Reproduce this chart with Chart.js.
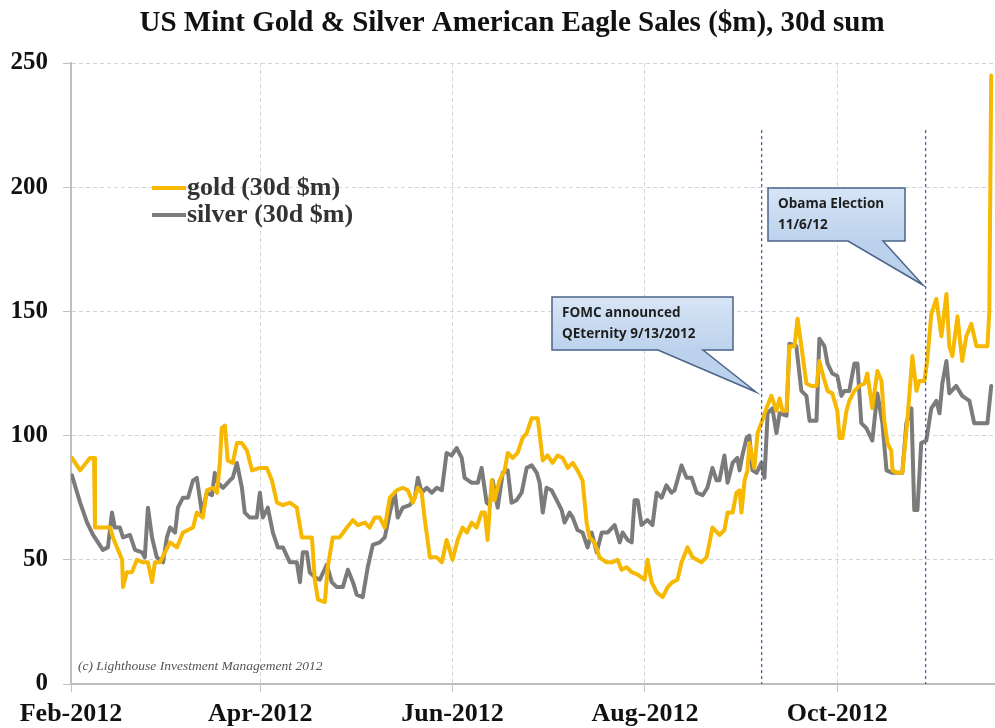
<!DOCTYPE html>
<html>
<head>
<meta charset="utf-8">
<script src="https://cdn.jsdelivr.net/npm/chart.js@4.4.1/dist/chart.umd.min.js"></script>
<style>
html, body { margin: 0; padding: 0; background: #fff; }
#wrap { width: 995px; height: 728px; position: relative; }
</style>
</head>
<body>
<div id="wrap"><canvas id="eagleChart"></canvas></div>
<script>
// x = days since 1 Feb 2012, y = 30 day sum in $m
const tickDays = [0, 60, 121, 182, 243];
const tickLabels = ['Feb-2012', 'Apr-2012', 'Jun-2012', 'Aug-2012', 'Oct-2012'];

const goldDays = [0.3, 2.9, 6.0, 7.3, 7.6, 12.4, 13.3, 16.2, 16.5, 17.7,
  19.3, 20.9, 22.8, 24.4, 25.7, 26.6, 28.2, 31.4, 33.6, 35.5,
  38.7, 39.9, 41.8, 43.1, 45.0, 46.3, 47.2, 47.8, 48.8, 49.7,
  51.3, 52.6, 54.2, 55.8, 57.4, 59.9, 62.1, 63.7, 65.3, 67.2,
  69.4, 71.6, 73.2, 76.4, 77.3, 78.3, 80.5, 81.4, 83.0, 85.2,
  87.5, 89.4, 90.9, 93.2, 94.7, 96.3, 97.9, 99.5, 101.1, 103.3,
  105.2, 106.8, 108.4, 110.0, 111.2, 112.2, 113.8, 116.0, 117.6, 119.1,
  121.0, 122.6, 124.2, 125.5, 127.1, 128.6, 130.2, 131.2, 132.1, 133.4,
  134.3, 135.9, 137.5, 138.5, 140.1, 141.6, 143.2, 144.5, 146.1, 148.0,
  149.6, 151.1, 152.7, 154.3, 155.9, 157.5, 159.1, 160.6, 162.2, 163.5,
  164.4, 166.0, 167.6, 169.8, 171.7, 173.3, 174.6, 176.2, 177.8, 179.7,
  181.9, 182.8, 184.1, 185.7, 187.6, 189.2, 190.7, 192.3, 193.6, 195.5,
  197.1, 199.9, 201.5, 202.5, 203.4, 205.6, 207.2, 208.2, 209.8, 211.0,
  212.0, 212.6, 213.6, 214.5, 215.1, 216.7, 217.7, 218.9, 220.5, 222.1,
  223.7, 224.7, 225.6, 226.9, 227.8, 229.4, 230.4, 231.6, 233.2, 234.8,
  236.4, 237.3, 238.3, 239.9, 241.4, 243.0, 243.7, 244.6, 245.9, 246.8,
  248.4, 250.0, 251.6, 252.5, 254.1, 255.7, 257.0, 257.9, 258.9, 260.1,
  260.5, 262.0, 263.6, 265.2, 266.8, 268.1, 269.0, 270.6, 271.5, 272.8,
  274.4, 276.0, 277.6, 278.5, 279.5, 281.1, 282.6, 283.9, 285.5, 287.1,
  289.0, 290.6, 291.2, 291.8];
const goldValues = [91, 86, 91, 91, 63, 63, 59, 50, 39, 45,
  45, 50, 49, 49, 41, 49, 49, 57, 55, 61,
  63, 69, 67, 78, 79, 77, 89, 103, 104, 90,
  89, 97, 97, 94, 86, 87, 87, 82, 73, 72,
  73, 71, 59, 59, 42, 34, 33, 47, 59, 59,
  63, 66, 64, 65, 63, 67, 67, 63, 75, 78,
  79, 78, 73, 79, 77, 66, 51, 51, 49, 58,
  50, 58, 63, 61, 65, 63, 69, 69, 58, 82,
  74, 82, 86, 93, 91, 93, 99, 101, 107, 107,
  90, 92, 89, 92, 91, 87, 89, 86, 82, 65,
  59, 57, 51, 49, 49, 50, 46, 47, 45, 44,
  42, 50, 41, 37, 35, 39, 41, 42, 49, 55,
  51, 49, 51, 57, 63, 60, 62, 69, 69, 77,
  78, 69, 82, 86, 97, 87, 101, 105, 111, 116,
  110, 115, 110, 110, 136, 136, 147, 136, 121, 120,
  120, 130, 125, 118, 117, 110, 99, 99, 110, 114,
  118, 120, 121, 125, 111, 126, 122, 106, 97, 94,
  86, 85, 85, 106, 132, 118, 122, 122, 130, 149,
  155, 140, 157, 136, 132, 148, 130, 140, 145, 136,
  136, 136, 150, 245];

const silverDays = [0.3, 2.9, 5.1, 7.0, 10.1, 11.7, 13.0, 13.9, 15.5, 16.5,
  18.7, 20.3, 22.5, 23.4, 24.4, 25.7, 27.2, 29.2, 30.4, 31.4,
  33.0, 33.9, 35.5, 37.1, 38.7, 39.9, 41.5, 43.1, 44.7, 45.6,
  46.6, 48.2, 50.4, 51.3, 52.6, 54.2, 55.1, 56.7, 58.9, 59.9,
  60.8, 62.4, 64.0, 65.6, 67.2, 69.4, 71.6, 72.6, 73.5, 74.8,
  75.7, 77.3, 78.9, 81.1, 82.7, 84.3, 86.2, 87.8, 89.4, 90.6,
  92.5, 94.1, 95.7, 97.9, 99.5, 101.1, 102.7, 103.6, 105.2, 107.4,
  109.0, 110.0, 111.2, 112.8, 114.4, 116.0, 117.6, 119.1, 120.7, 122.3,
  123.9, 124.8, 127.1, 129.0, 130.2, 131.8, 132.8, 133.7, 135.3, 136.9,
  138.5, 139.7, 141.3, 142.9, 144.5, 146.1, 147.7, 148.6, 149.6, 150.8,
  152.4, 154.0, 155.6, 156.5, 158.1, 159.1, 160.6, 162.2, 163.8, 165.1,
  166.7, 168.3, 170.2, 172.4, 174.0, 174.9, 176.5, 177.8, 178.7, 179.7,
  180.9, 182.8, 184.4, 185.7, 187.3, 188.8, 190.4, 191.4, 193.6, 195.2,
  196.8, 198.4, 200.3, 201.8, 203.4, 204.7, 205.6, 207.2, 208.2, 209.8,
  211.3, 212.0, 212.9, 214.2, 215.1, 216.1, 217.4, 218.9, 219.9, 220.9,
  222.4, 223.7, 224.7, 226.9, 227.8, 230.0, 231.6, 233.2, 234.2, 236.4,
  237.3, 238.9, 239.9, 241.4, 243.0, 244.3, 245.2, 246.8, 248.4, 249.4,
  250.6, 252.2, 254.1, 255.7, 257.3, 258.6, 260.5, 263.6, 264.9, 266.5,
  267.4, 268.4, 269.6, 271.2, 272.8, 274.4, 275.4, 276.3, 277.6, 278.5,
  280.7, 282.6, 284.9, 286.4, 289.0, 290.6, 291.8];
const silverValues = [84, 73, 65, 60, 54, 55, 69, 63, 63, 59,
  60, 54, 53, 51, 71, 59, 51, 49, 59, 63,
  61, 71, 75, 75, 82, 83, 69, 77, 76, 85,
  81, 79, 82, 83, 89, 79, 69, 67, 67, 77,
  67, 71, 61, 55, 55, 49, 49, 41, 53, 53,
  45, 43, 42, 48, 41, 39, 39, 46, 41, 36,
  35, 47, 56, 57, 59, 69, 77, 67, 71, 72,
  75, 83, 77, 79, 77, 79, 78, 93, 92, 95,
  91, 83, 81, 81, 87, 73, 72, 82, 71, 85,
  86, 73, 74, 77, 87, 88, 85, 81, 69, 79,
  78, 74, 70, 65, 69, 67, 62, 61, 55, 61,
  53, 61, 61, 64, 57, 61, 58, 57, 74, 74,
  64, 66, 64, 77, 75, 80, 77, 78, 88, 83,
  83, 77, 76, 79, 87, 82, 82, 92, 81, 89,
  91, 86, 92, 99, 100, 86, 85, 89, 83, 109,
  111, 101, 109, 108, 137, 136, 118, 116, 106, 106,
  139, 136, 129, 125, 124, 116, 118, 118, 129, 129,
  105, 103, 98, 117, 105, 86, 85, 85, 105, 111,
  70, 70, 97, 98, 111, 114, 109, 121, 130, 117,
  120, 116, 114, 105, 105, 105, 120];

// FOMC (9/13/2012) and election (11/6/12) markers, as drawn on the axis
const eventDays = [219, 271];

const serif = "'Liberation Serif', 'Times New Roman', serif";

function toPoints(days, values) {
    return days.map(function(d, i) { return { x: d, y: values[i] }; });
}

function drawCallout(ctx, box, wedge, lines) {
    ctx.save();
    const bottom = box.y + box.h;
    const g = ctx.createLinearGradient(0, box.y, 0, bottom);
    g.addColorStop(0, '#d7e5f6');
    g.addColorStop(1, '#bcd2ec');
    ctx.beginPath();
    ctx.moveTo(box.x, box.y);
    ctx.lineTo(box.x + box.w, box.y);
    ctx.lineTo(box.x + box.w, bottom);
    ctx.lineTo(wedge.x2, bottom);
    ctx.lineTo(wedge.tipX, wedge.tipY);
    ctx.lineTo(wedge.x1, bottom);
    ctx.lineTo(box.x, bottom);
    ctx.closePath();
    ctx.fillStyle = g;
    ctx.fill();
    ctx.strokeStyle = '#4b6488';
    ctx.lineWidth = 1.5;
    ctx.stroke();
    ctx.fillStyle = '#1e1e1e';
    ctx.font = "bold 13.5px 'Open Sans', sans-serif";
    ctx.textBaseline = 'middle';
    ctx.textAlign = 'left';
    lines.forEach(function(t, i) {
        ctx.fillText(t, box.x + 10, box.y + 16 + i * 21);
    });
    ctx.restore();
}

const decorations = {
    id: 'decorations',
    afterDatasetsDraw(chart) {
        const ctx = chart.ctx;
        const xs = chart.scales.x;
        const ys = chart.scales.y;

        // event marker lines
        ctx.save();
        ctx.strokeStyle = '#3f66a8';
        ctx.lineWidth = 1.3;
        ctx.setLineDash([3, 3]);
        eventDays.forEach(function(d) {
            const px = xs.getPixelForValue(d);
            ctx.beginPath();
            ctx.moveTo(px, ys.getPixelForValue(223));
            ctx.lineTo(px, ys.bottom);
            ctx.stroke();
        });
        ctx.restore();

        drawCallout(ctx, { x: 552, y: 297, w: 181, h: 53 },
            { x1: 658, x2: 703, tipX: 756, tipY: 392 },
            ['FOMC announced', 'QEternity 9/13/2012']);
        drawCallout(ctx, { x: 768, y: 188, w: 137, h: 53 },
            { x1: 848, x2: 883, tipX: 923, tipY: 285 },
            ['Obama Election', '11/6/12']);
    },
    afterDraw(chart) {
        const ctx = chart.ctx;
        ctx.save();
        // title
        ctx.fillStyle = '#111';
        ctx.font = 'bold 29px ' + serif;
        ctx.textAlign = 'center';
        ctx.textBaseline = 'alphabetic';
        ctx.fillText('US Mint Gold & Silver American Eagle Sales ($m), 30d sum', 512, 31);

        // legend
        const items = [
            { label: 'gold (30d $m)', color: '#f6b800', y: 188 },
            { label: 'silver (30d $m)', color: '#7b7b7b', y: 215 }
        ];
        ctx.textAlign = 'left';
        ctx.textBaseline = 'middle';
        items.forEach(function(it) {
            ctx.strokeStyle = it.color;
            ctx.lineWidth = 4;
            ctx.beginPath();
            ctx.moveTo(152, it.y);
            ctx.lineTo(186, it.y);
            ctx.stroke();
            ctx.fillStyle = '#333';
            ctx.font = 'bold 26px ' + serif;
            ctx.fillText(it.label, 187, it.y);
        });

        // credit
        ctx.fillStyle = '#555';
        ctx.font = 'italic 13.5px ' + serif;
        ctx.textBaseline = 'middle';
        ctx.fillText('(c) Lighthouse Investment Management 2012', 78, 666);
        ctx.restore();
    }
};

const chartConfig = {
    type: 'line',
    data: {
        datasets: [{
            label: 'gold (30d $m)',
            data: toPoints(goldDays, goldValues),
            borderColor: '#f6b800',
            borderWidth: 4
        }, {
            label: 'silver (30d $m)',
            data: toPoints(silverDays, silverValues),
            borderColor: '#7b7b7b',
            borderWidth: 4
        }]
    },
    options: {
        responsive: true,
        maintainAspectRatio: false,
        animation: false,
        elements: {
            point: { radius: 0 },
            line: { tension: 0, borderJoinStyle: 'round', borderCapStyle: 'round' }
        },
        layout: { padding: { top: 63, right: 0, left: 0, bottom: 0 } },
        plugins: {
            legend: { display: false },
            title: { display: false },
            tooltip: { enabled: false }
        },
        scales: {
            x: {
                type: 'linear',
                min: 0,
                max: 293,
                afterBuildTicks: function(scale) {
                    scale.ticks = tickDays.map(function(v) { return { value: v }; });
                },
                afterFit: function(scale) { scale.height = 44; },
                ticks: {
                    autoSkip: false,
                    maxRotation: 0,
                    padding: 7,
                    color: '#111',
                    font: { family: serif, size: 26, weight: 'bold' },
                    callback: function(v) {
                        const i = tickDays.indexOf(v);
                        return i >= 0 ? tickLabels[i] : '';
                    }
                },
                grid: {
                    color: '#d6d6d6',
                    tickLength: 8,
                    tickColor: '#c0c0c0',
                    tickBorderDash: []
                },
                border: { color: '#bfbfbf', width: 2, dash: [4, 3] }
            },
            y: {
                min: 0,
                max: 250,
                afterFit: function(scale) { scale.width = 71; },
                ticks: {
                    stepSize: 50,
                    padding: 15,
                    color: '#111',
                    font: { family: serif, size: 25, weight: 'bold' }
                },
                grid: {
                    color: '#d6d6d6',
                    tickLength: 8,
                    tickColor: '#c0c0c0',
                    tickBorderDash: []
                },
                border: { color: '#bfbfbf', width: 2, dash: [4, 3] }
            }
        }
    },
    plugins: [decorations]
};

const ctx = document.getElementById('eagleChart').getContext('2d');
new Chart(ctx, chartConfig);
</script>
</body>
</html>
